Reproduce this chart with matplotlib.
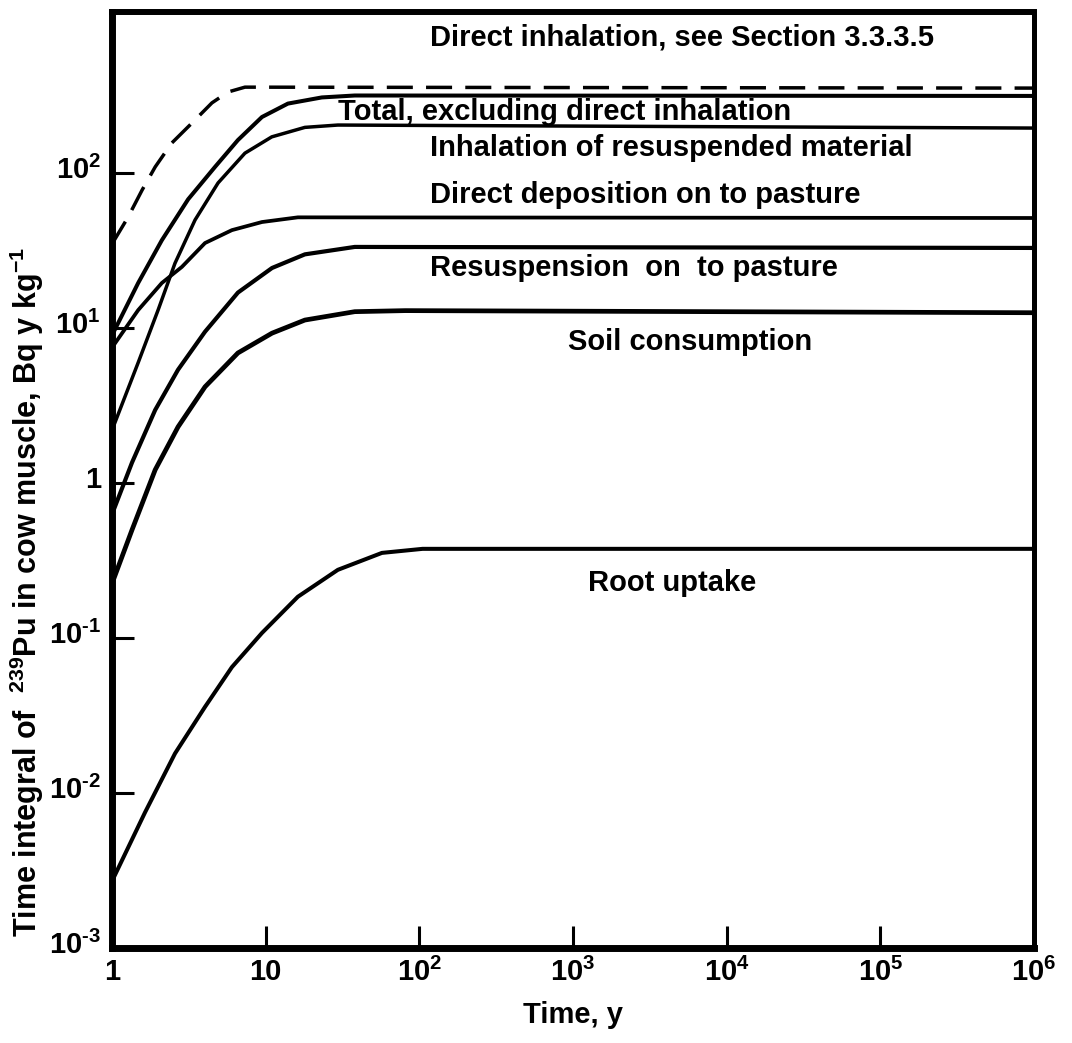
import matplotlib
matplotlib.use("Agg")
import matplotlib.pyplot as plt
import matplotlib.transforms as mtransforms

plt.rcParams['font.family'] = ['Liberation Sans', 'DejaVu Sans']
plt.rcParams['font.weight'] = 'bold'
plt.rcParams['mathtext.fontset'] = 'custom'
plt.rcParams['mathtext.rm'] = 'Liberation Sans:bold'
plt.rcParams['mathtext.bf'] = 'Liberation Sans:bold'
plt.rcParams['mathtext.it'] = 'Liberation Sans:bold'
plt.rcParams['mathtext.default'] = 'rm'

# ---- data ----
direct_inh_x = [1, 1.27, 1.57, 1.91, 2.45, 3.31, 4.47, 5.69, 7.33, 1e6]
direct_inh_y = [35, 52, 78, 110, 157, 211, 285, 335, 360, 355]

total_x = [1, 1.48, 2.11, 3.13, 4.68, 6.6, 9.46, 13.96, 23.2, 38, 1e6]
total_y = [9.0, 19.6, 37, 68, 110, 164, 231, 282, 309, 318, 316]

inhal_x = [1, 1.48, 2.0, 2.57, 3.47, 4.9, 7.33, 10.96, 18, 29.5, 1e6]
inhal_y = [2.2, 6.0, 13.2, 26.3, 50, 86.7, 135, 172, 198, 205, 196]

depo_x = [1, 1.48, 2.11, 2.85, 4.03, 6.03, 9.46, 16.2, 1e6]
depo_y = [7.5, 13.1, 19.6, 24.9, 35.5, 43, 48.5, 52, 51.5]

resusp_x = [1, 1.35, 1.91, 2.69, 4.03, 6.6, 11, 18, 38, 1e6]
resusp_y = [0.63, 1.36, 2.97, 5.4, 9.5, 17, 24.5, 30, 33.5, 33]

soil_x = [1, 1.35, 1.91, 2.69, 4.03, 6.6, 11, 18, 38, 81, 1e6]
soil_y = [0.225, 0.5, 1.22, 2.31, 4.19, 6.93, 9.3, 11.3, 12.8, 13.0, 12.6]

root_x = [1, 1.64, 2.57, 4.03, 6.03, 9.46, 16.2, 29.5, 57.1, 105, 1e6]
root_y = [0.0027, 0.0075, 0.018, 0.036, 0.065, 0.108, 0.185, 0.276, 0.355, 0.377, 0.377]

x_ticks = [1, 10, 1e2, 1e3, 1e4, 1e5, 1e6]
x_ticklabels = ['1', '10', '$10^{2}$', '$10^{3}$', '$10^{4}$', '$10^{5}$', '$10^{6}$']
y_ticks = [1e-3, 1e-2, 1e-1, 1, 10, 1e2]
y_ticklabels = [r'$10^{\text{-}3}$', r'$10^{\text{-}2}$', r'$10^{\text{-}1}$',
                '1', '$10^{1}$', '$10^{2}$']

labels = [
    ("Direct inhalation, see Section 3.3.3.5", 0.345, 0.973),
    ("Total, excluding direct inhalation", 0.245, 0.893),
    ("Inhalation of resuspended material", 0.345, 0.855),
    ("Direct deposition on to pasture", 0.345, 0.804),
    ("Resuspension  on  to pasture", 0.345, 0.726),
    ("Soil consumption", 0.495, 0.647),
    ("Root uptake", 0.516, 0.390),
]

W, H = 1072, 1043
fig = plt.figure(figsize=(W / 100, H / 100), dpi=100)
ax = fig.add_axes([112 / W, (H - 948) / H, 922 / W, 936 / H])
ax.set_xscale('log')
ax.set_yscale('log')
ax.set_xlim(1, 1e6)
ax.set_ylim(1e-3, 1.1e3)

ax.plot(direct_inh_x, direct_inh_y, color='black', lw=2.5, dashes=(7.5, 3.8),
        dash_capstyle='butt')
ax.plot(total_x, total_y, color='black', lw=2.9, solid_joinstyle='round')
ax.plot(inhal_x, inhal_y, color='black', lw=2.5, solid_joinstyle='round')
ax.plot(depo_x, depo_y, color='black', lw=2.7, solid_joinstyle='round')
ax.plot(resusp_x, resusp_y, color='black', lw=3.0, solid_joinstyle='round')
ax.plot(soil_x, soil_y, color='black', lw=3.4, solid_joinstyle='round')
ax.plot(root_x, root_y, color='black', lw=2.9, solid_joinstyle='round')

for txt, fx, fy in labels:
    ax.text(fx, fy, txt, transform=ax.transAxes, fontsize=21,
            fontweight='bold', ha='left', va='center')

ax.set_xticks(x_ticks)
ax.set_xticklabels(x_ticklabels)
ax.set_yticks(y_ticks)
ax.set_yticklabels(y_ticklabels)
ax.minorticks_off()
ax.tick_params(axis='x', which='major', direction='in', length=16, width=2.2,
               bottom=True, top=False, labelsize=21, pad=7)
ax.tick_params(axis='y', which='major', direction='in', length=16, width=2.2,
               left=True, right=False, labelsize=21, pad=8)
# tick marks at the corners are not drawn in the reference
ax.yaxis.get_major_ticks()[0].tick1line.set_visible(False)
ax.xaxis.get_major_ticks()[0].tick1line.set_visible(False)
ax.xaxis.get_major_ticks()[-1].tick1line.set_visible(False)

offset = mtransforms.ScaledTranslation(0, 6 / 100, fig.dpi_scale_trans)
for lab in ax.get_yticklabels():
    lab.set_transform(lab.get_transform() + offset)

ax.spines['left'].set_linewidth(5)
ax.spines['bottom'].set_linewidth(5)
ax.spines['top'].set_linewidth(4.3)
ax.spines['right'].set_linewidth(3.6)

fig.text(27 / W, 1 - 592 / H,
         "Time integral of  $^{239}$Pu in cow muscle, Bq y kg$^{-1}$",
         rotation=90, ha='center', va='center', fontsize=22, fontweight='bold')
fig.text(573 / W, 1 - 1015 / H, "Time, y", ha='center', va='center',
         fontsize=21, fontweight='bold')

fig.savefig('out.png', dpi=100, facecolor='white')
